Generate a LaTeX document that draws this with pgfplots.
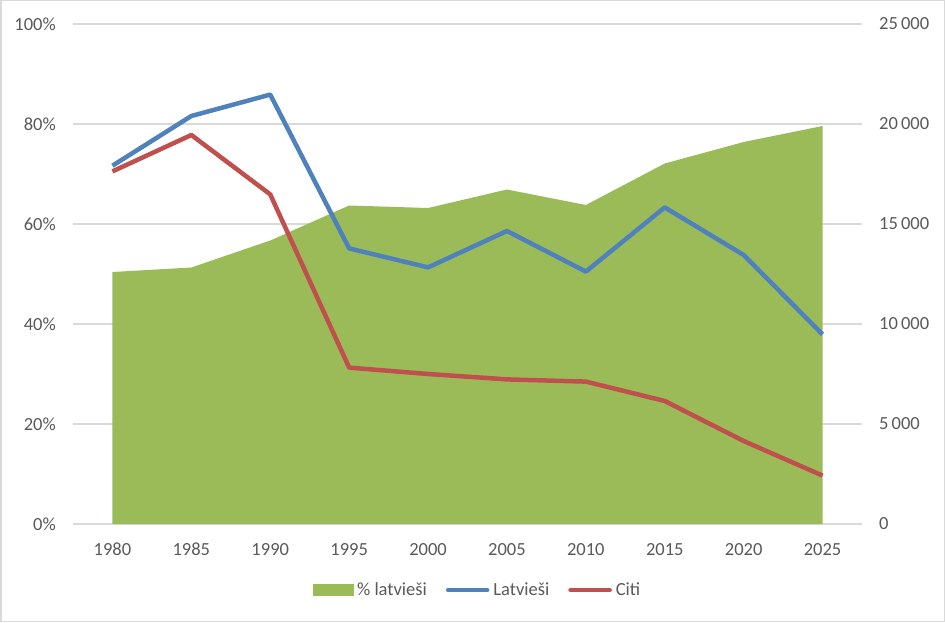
\documentclass[border=0pt]{standalone}
\usepackage{pgfplots}
\pgfplotsset{compat=1.18}
\usepackage{fontspec}
\setmainfont{Carlito}
\definecolor{cgreen}{HTML}{9BBB59}
\definecolor{cblue}{HTML}{4F81BD}
\definecolor{cred}{HTML}{C0504D}
\definecolor{cgrid}{HTML}{D9D9D9}
\definecolor{ctext}{HTML}{595959}
\begin{document}
\begin{tikzpicture}[x=1pt,y=1pt]
\useasboundingbox (0,0) rectangle (945,622);
\draw[cgrid, line width=1.5pt] (0.75,0.75) rectangle (944.25,621.25);
\pgfplotsset{
  common/.style={
    scale only axis, width=789pt, height=500pt,
    at={(73pt,98pt)}, anchor=south west,
    xmin=-0.5, xmax=9.5,
    axis line style={draw=none},
    major tick length=0pt,
    scaled ticks=false,
    tick label style={font=\fontsize{18.5}{22}\selectfont, text=ctext},
    /pgf/number format/assume math mode=true,
  }
}
\begin{axis}[common,
  ymin=0, ymax=100, ytick={0,20,40,60,80,100},
  yticklabel={\pgfmathprintnumber{\tick}\%},
  ymajorgrids, grid style={cgrid, line width=1.5pt},
  yticklabel style={anchor=east, inner sep=0pt, xshift=-17pt},
  xtick={0,...,9},
  xticklabels={1980,1985,1990,1995,2000,2005,2010,2015,2020,2025},
  xticklabel style={anchor=north, inner sep=0pt, yshift=-19pt},
]
\addplot[fill=cgreen, draw=none] coordinates {
 (0,50.4) (1,51.3) (2,56.7) (3,63.7) (4,63.2) (5,66.9) (6,63.8) (7,72.1) (8,76.4) (9,79.6)
} \closedcycle;
\end{axis}
\begin{axis}[common,
  ymin=0, ymax=25000, ytick={0,5000,10000,15000,20000,25000},
  axis y line*=right,
  xtick=\empty,
  yticklabel style={anchor=west, inner sep=0pt, xshift=17pt,
    /pgf/number format/.cd, fixed, 1000 sep={\,}, precision=0},
  legend columns=3,
  legend style={draw=none, fill=none, at={(axis description cs:0.5114,-0.132)}, anchor=center,
    font=\fontsize{18.5}{22}\selectfont, text=ctext,
    /tikz/every even column/.append style={column sep=19pt},
    /tikz/every odd column/.append style={column sep=4pt},
    nodes={inner sep=0pt}},
]
\addlegendimage{legend image code/.code={\fill[cgreen] (0pt,-5.5pt) rectangle (40pt,5.5pt);}}
\addlegendentry{\% latvieši}
\addplot[cblue, line width=4.5pt, line join=round,
  legend image code/.code={\draw[cblue, line width=4.5pt, line cap=round] (2pt,0pt) -- (41pt,0pt);}] coordinates {
 (0,17915) (1,20400) (2,21470) (3,13780) (4,12830) (5,14650) (6,12620) (7,15830) (8,13450) (9,9480)
};
\addlegendentry{Latvieši}
\addplot[cred, line width=4.5pt, line join=round,
  legend image code/.code={\draw[cred, line width=4.5pt, line cap=round] (2pt,0pt) -- (41pt,0pt);}] coordinates {
 (0,17630) (1,19450) (2,16480) (3,7820) (4,7500) (5,7230) (6,7120) (7,6150) (8,4150) (9,2420)
};
\addlegendentry{Citi}
\end{axis}
\end{tikzpicture}
\end{document}
